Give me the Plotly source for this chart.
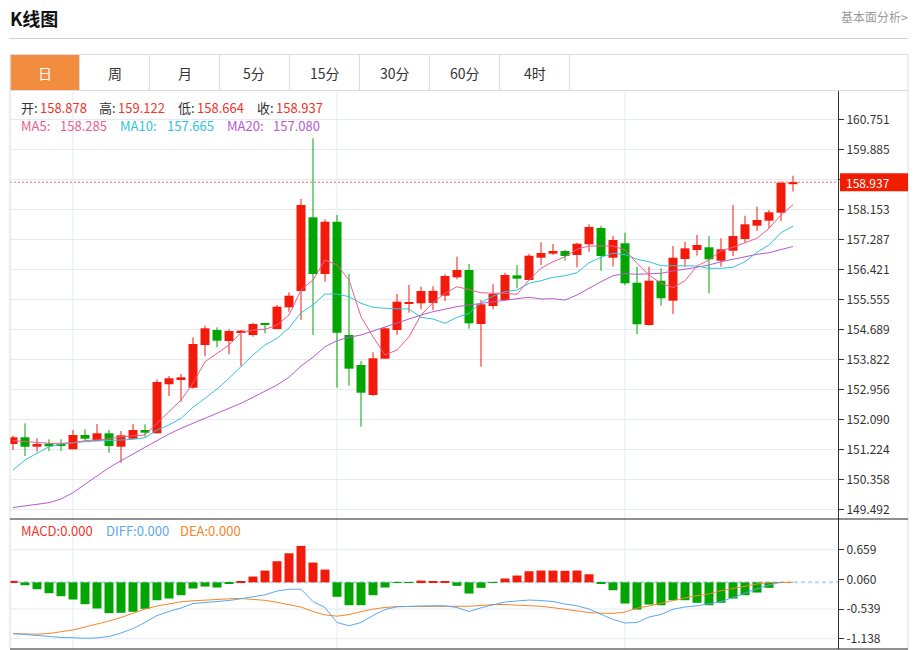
import plotly.graph_objects as go

# ---------------- data ----------------
IDX = list(range(1, 67))

OPEN = [151.378, 151.572, 151.300, 151.387, 151.378, 151.225, 151.638, 151.473, 151.687, 151.300,
        151.531, 151.782, 151.687, 153.102, 153.226, 153.003, 154.236, 154.669, 154.351, 154.611,
        154.525, 154.842, 154.698, 155.324, 155.795, 157.922, 156.286, 157.795, 154.525, 153.659,
        152.793, 153.841, 154.669, 155.428, 155.440, 155.450, 155.659, 156.190, 156.401, 154.842,
        155.362, 155.535, 156.248, 156.112, 156.756, 156.872, 156.949, 156.834, 157.143, 157.613,
        156.756, 157.172, 156.034, 154.813, 156.092, 155.515, 156.719, 156.978, 157.056, 156.669,
        156.958, 157.296, 157.680, 157.824, 158.055, 158.878]
HIGH = [151.618, 151.976, 151.543, 151.514, 151.514, 151.782, 151.803, 151.955, 151.782, 151.753,
        151.955, 151.947, 153.246, 153.341, 153.399, 154.458, 154.793, 154.747, 154.689, 154.669,
        154.880, 154.880, 155.391, 155.757, 158.451, 160.203, 157.865, 157.989, 156.286, 153.774,
        154.025, 154.747, 155.708, 155.968, 155.919, 155.930, 156.277, 156.785, 156.574, 155.535,
        155.988, 156.323, 156.545, 156.863, 157.201, 157.152, 156.978, 157.189, 157.720, 157.680,
        157.382, 157.478, 156.496, 156.496, 156.450, 157.094, 157.218, 157.411, 157.382, 157.316,
        158.277, 157.968, 158.228, 158.133, 158.950, 159.122]
LOW = [151.205, 151.032, 151.156, 151.176, 151.176, 151.225, 151.473, 151.473, 151.127, 150.838,
       151.531, 151.589, 151.687, 152.764, 152.599, 152.975, 153.918, 154.170, 153.968, 153.630,
       154.476, 154.574, 154.698, 155.197, 154.958, 154.525, 156.063, 153.003, 153.061, 151.878,
       152.764, 153.841, 154.525, 155.168, 155.267, 155.250, 155.506, 156.133, 154.707, 153.610,
       155.267, 155.535, 155.873, 156.112, 156.545, 156.834, 156.669, 156.476, 156.929, 156.381,
       156.504, 155.959, 154.545, 154.793, 155.370, 155.131, 156.496, 156.814, 155.728, 156.496,
       156.805, 157.189, 157.527, 157.605, 157.816, 158.664]
CLOSE = [151.572, 151.300, 151.378, 151.312, 151.320, 151.638, 151.531, 151.687, 151.320, 151.629,
         151.782, 151.704, 153.168, 153.275, 153.304, 154.265, 154.718, 154.360, 154.640, 154.649,
         154.842, 154.822, 155.342, 155.659, 158.277, 156.286, 157.795, 154.591, 153.552, 152.859,
         153.852, 154.718, 155.486, 155.469, 155.795, 155.800, 156.228, 156.401, 154.862, 155.411,
         155.708, 156.257, 156.150, 156.814, 156.892, 156.949, 156.805, 157.160, 157.642, 156.805,
         157.267, 156.017, 154.834, 156.092, 155.584, 156.756, 157.027, 157.123, 156.710, 156.999,
         157.382, 157.720, 157.844, 158.067, 158.921, 158.937]

MA5 = [151.473, 151.444, 151.416, 151.398, 151.398, 151.416, 151.473, 151.494, 151.522, 151.589,
       151.618, 151.638, 151.976, 152.310, 152.648, 153.130, 153.754, 153.996, 154.236, 154.591,
       154.669, 154.689, 154.813, 155.102, 155.824, 156.112, 156.690, 156.545, 156.112, 155.053,
       154.475, 153.947, 154.092, 154.475, 155.102, 155.457, 155.728, 155.919, 155.824, 155.746,
       155.728, 155.728, 155.699, 156.112, 156.450, 156.640, 156.785, 156.998, 157.094, 157.102,
       157.094, 156.978, 156.594, 156.257, 156.017, 155.890, 156.092, 156.516, 156.690, 156.958,
       157.056, 157.189, 157.316, 157.605, 157.989, 158.285]
MA10 = [150.628, 150.916, 151.110, 151.300, 151.378, 151.416, 151.444, 151.465, 151.473, 151.494,
        151.514, 151.560, 151.782, 151.927, 152.120, 152.437, 152.697, 152.966, 153.275, 153.610,
        153.947, 154.236, 154.429, 154.727, 155.168, 155.391, 155.708, 155.708, 155.630, 155.440,
        155.324, 155.295, 155.295, 155.275, 155.035, 154.986, 154.862, 155.035, 155.151, 155.457,
        155.650, 155.775, 155.824, 156.017, 156.092, 156.190, 156.236, 156.323, 156.612, 156.768,
        156.883, 156.848, 156.710, 156.640, 156.525, 156.516, 156.516, 156.516, 156.450, 156.450,
        156.479, 156.640, 156.912, 157.123, 157.478, 157.665]
MA20 = [149.545, 149.597, 149.646, 149.684, 149.790, 149.972, 150.215, 150.454, 150.694, 150.896,
        151.089, 151.300, 151.494, 151.667, 151.831, 151.976, 152.120, 152.264, 152.409, 152.553,
        152.726, 152.908, 153.081, 153.304, 153.630, 153.881, 154.187, 154.360, 154.458, 154.525,
        154.640, 154.764, 154.891, 155.007, 155.102, 155.197, 155.275, 155.342, 155.391, 155.440,
        155.486, 155.535, 155.572, 155.613, 155.564, 155.572, 155.535, 155.679, 155.873, 156.063,
        156.236, 156.300, 156.277, 156.285, 156.306, 156.372, 156.421, 156.479, 156.545, 156.640,
        156.710, 156.785, 156.854, 156.900, 156.998, 157.080]

MACD = [0.030, -0.058, -0.139, -0.220, -0.280, -0.347, -0.442, -0.528, -0.623, -0.615,
        -0.595, -0.535, -0.361, -0.327, -0.260, -0.125, -0.085, -0.105, -0.030, 0.022,
        0.117, 0.238, 0.426, 0.587, 0.736, 0.399, 0.258, -0.292, -0.462, -0.462,
        -0.260, -0.105, -0.010, -0.005, 0.036, 0.022, 0.022, -0.071, -0.226, -0.111,
        -0.010, 0.077, 0.137, 0.224, 0.238, 0.238, 0.232, 0.238, 0.163, -0.030,
        -0.159, -0.428, -0.549, -0.448, -0.462, -0.361, -0.361, -0.413, -0.462, -0.413,
        -0.327, -0.260, -0.206, -0.111, 0.000, 0.000]
DIFF = [-1.033, -1.053, -1.079, -1.103, -1.113, -1.119, -1.130, -1.123, -1.093, -1.023,
        -0.932, -0.811, -0.670, -0.589, -0.518, -0.428, -0.407, -0.393, -0.367, -0.331,
        -0.296, -0.252, -0.175, -0.139, -0.139, -0.387, -0.508, -0.811, -0.877, -0.811,
        -0.670, -0.549, -0.494, -0.482, -0.478, -0.474, -0.474, -0.508, -0.589, -0.514,
        -0.454, -0.397, -0.377, -0.357, -0.367, -0.387, -0.438, -0.474, -0.539, -0.639,
        -0.750, -0.821, -0.811, -0.700, -0.649, -0.543, -0.498, -0.474, -0.438, -0.387,
        -0.307, -0.216, -0.131, -0.054, 0.000, 0.000]
DEA = [-1.037, -1.043, -1.047, -1.033, -1.002, -0.962, -0.902, -0.845, -0.781, -0.710,
       -0.619, -0.539, -0.478, -0.428, -0.393, -0.373, -0.357, -0.345, -0.333, -0.327,
       -0.341, -0.363, -0.403, -0.454, -0.500, -0.589, -0.656, -0.684, -0.649, -0.593,
       -0.541, -0.508, -0.488, -0.488, -0.488, -0.488, -0.492, -0.490, -0.482, -0.468,
       -0.448, -0.448, -0.456, -0.468, -0.484, -0.512, -0.549, -0.583, -0.609, -0.623,
       -0.627, -0.599, -0.520, -0.478, -0.424, -0.361, -0.313, -0.270, -0.234, -0.169,
       -0.119, -0.075, -0.034, -0.004, 0.000, 0.000]

PRICE_TICKS = [160.751, 159.885, 159.019, 158.153, 157.287, 156.421, 155.555,
               154.689, 153.822, 152.956, 152.090, 151.224, 150.358, 149.492]
PRICE_TICK_TEXT = ["160.751", "159.885", "", "158.153", "157.287", "156.421", "155.555",
                   "154.689", "153.822", "152.956", "152.090", "151.224", "150.358", "149.492"]
MACD_TICKS = [0.659, 0.060, -0.539, -1.138]
MACD_TICK_TEXT = ["0.659", "0.060", "-0.539", "-1.138"]
MONTH_MARKS = [6, 28, 52]
TABS = ["日", "周", "月", "5分", "15分", "30分", "60分", "4时"]

# ---------------- styling ----------------
FONT = "Noto Sans CJK SC, Noto Sans, sans-serif"
UP = "#f21b0b"
DOWN = "#03a503"
C_MA5, C_MA10, C_MA20 = "#ee5b8e", "#30c4dc", "#b65bd0"
C_DIFF, C_DEA = "#5aa8f0", "#f5862a"
GRID = "#e4eaf0"
FRAME = "#dcdcdc"

W, H = 920, 650
PL, PR, PT, PB = 10, 838, 91, 649          # plot area in pixels
SPLIT = 519                               # boundary price / MACD panel


def X(px):
    return (px - PL) / (PR - PL)


def Y(py):
    return (PB - py) / (PB - PT)


fig = go.Figure()

# wicks
for col, cond in ((UP, lambda o, c: c >= o), (DOWN, lambda o, c: c < o)):
    wx, wy = [], []
    for i, o, h, l, c in zip(IDX, OPEN, HIGH, LOW, CLOSE):
        if cond(o, c):
            wx += [i, i, None]
            wy += [l, h, None]
    fig.add_trace(go.Scatter(x=wx, y=wy, mode="lines", line=dict(color=col, width=1),
                             hoverinfo="skip", xaxis="x", yaxis="y"))

# bodies
fig.add_trace(go.Bar(
    x=IDX,
    y=[max(abs(c - o), 0.03) for o, c in zip(OPEN, CLOSE)],
    base=[min(o, c) for o, c in zip(OPEN, CLOSE)],
    width=0.75,
    marker=dict(color=[UP if c >= o else DOWN for o, c in zip(OPEN, CLOSE)], line=dict(width=0)),
    xaxis="x", yaxis="y"))

for arr, col in ((MA20, C_MA20), (MA10, C_MA10), (MA5, C_MA5)):
    fig.add_trace(go.Scatter(x=IDX, y=arr, mode="lines", line=dict(color=col, width=1),
                             xaxis="x", yaxis="y"))

# MACD panel
fig.add_trace(go.Bar(x=IDX, y=MACD, width=0.75,
                     marker=dict(color=[UP if v >= 0 else DOWN for v in MACD], line=dict(width=0)),
                     xaxis="x", yaxis="y2"))
fig.add_trace(go.Scatter(x=IDX, y=DEA, mode="lines", line=dict(color=C_DEA, width=1),
                         xaxis="x", yaxis="y2"))
fig.add_trace(go.Scatter(x=IDX[:-1], y=DIFF[:-1], mode="lines", line=dict(color=C_DIFF, width=1),
                         xaxis="x", yaxis="y2"))

# ---------------- shapes ----------------
shapes = []


def pline(x0, y0, x1, y1, color, width=1, dash="solid", layer="above"):
    shapes.append(dict(type="line", xref="paper", yref="paper", x0=X(x0), x1=X(x1),
                       y0=Y(y0), y1=Y(y1), line=dict(color=color, width=width, dash=dash),
                       layer=layer))


# title separator
pline(9, 38.5, 908, 38.5, "#d0d0d0")
# tab bar
shapes.append(dict(type="rect", xref="paper", yref="paper", x0=X(10.5), x1=X(79), y0=Y(90),
                   y1=Y(55), fillcolor="#f28c3e", line=dict(width=0)))
pline(10, 54.5, 908, 54.5, FRAME)
pline(10, 90.5, 908, 90.5, FRAME)
for k in range(len(TABS)):
    xd = 79.5 + 70 * k
    pline(xd, 54.5, xd, 90.5, FRAME)
# outer frame
pline(10, 54.5, 10, 649, FRAME)
pline(908, 54.5, 908, 649, FRAME)
# panel separators
pline(10, SPLIT, 908, SPLIT, "#222222")
pline(10, 649, 908, 649, "#222222")

# vertical grid lines
for m in MONTH_MARKS:
    shapes.append(dict(type="line", xref="x", yref="paper", x0=m, x1=m, y0=0, y1=1,
                       line=dict(color=GRID, width=1), layer="below"))
# MACD grid lines
for v in (MACD_TICKS[0], MACD_TICKS[2], MACD_TICKS[3]):
    shapes.append(dict(type="line", xref="paper", yref="y2", x0=0, x1=1, y0=v, y1=v,
                       line=dict(color=GRID, width=1), layer="below"))
# MACD zero dashed line
shapes.append(dict(type="line", xref="paper", yref="y2", x0=0, x1=1, y0=0, y1=0,
                   line=dict(color="#b3dbee", width=2, dash="4px,3px"), layer="below"))
# last price dashed line
last = CLOSE[-1]
shapes.append(dict(type="line", xref="paper", yref="y", x0=0, x1=1, y0=last, y1=last,
                   line=dict(color="#f06a6a", width=1, dash="2px,2px"), layer="below"))
# last price label box
shapes.append(dict(type="rect", xref="paper", yref="y", x0=X(840), x1=X(908),
                   y0=last - 0.26, y1=last + 0.26, fillcolor="#f21c00", line=dict(width=0)))

# ---------------- annotations ----------------
ann = []


def text(px, py, s, color, size, anchor="left", bold=False):
    ann.append(dict(xref="paper", yref="paper", x=X(px), y=Y(py), text=("<b>%s</b>" % s) if bold else s,
                    showarrow=False, xanchor=anchor, yanchor="middle",
                    font=dict(family=FONT, size=size, color=color), borderpad=0))


text(9, 18, "K线图", "#111111", 18, bold=True)
text(909, 17, "基本面分析>", "#9a9a9a", 12, anchor="right")
for k, t in enumerate(TABS):
    text(44.5 + 70 * k, 73, t, "#ffffff" if k == 0 else "#333333", 14, anchor="center")

RED_TXT = "#f0342a"
fmt = "%.3f"
row1 = [(20, "开:", "#333333"), (38.5, fmt % OPEN[-1], RED_TXT),
        (97.5, "高:", "#333333"), (117, fmt % HIGH[-1], RED_TXT),
        (176.5, "低:", "#333333"), (196, fmt % LOW[-1], RED_TXT),
        (255.5, "收:", "#333333"), (275, fmt % CLOSE[-1], RED_TXT)]
for px, s, col in row1:
    text(px, 107, s, col, 13)
row2 = [(20, "MA5:", C_MA5), (59, fmt % MA5[-1], C_MA5),
        (119, "MA10:", C_MA10), (165.5, fmt % MA10[-1], C_MA10),
        (226, "MA20:", C_MA20), (272, fmt % MA20[-1], C_MA20)]
for px, s, col in row2:
    text(px, 125.5, s, col, 13)
text(20, 530.5, "MACD:" + fmt % MACD[-1], "#f0342a", 13)
text(105, 530.5, "DIFF:" + fmt % DIFF[-1], C_DIFF, 13)
text(178.5, 530.5, "DEA:" + fmt % DEA[-1], C_DEA, 13)
ann.append(dict(xref="paper", yref="y", x=X(845), y=last, text=fmt % last, showarrow=False,
                xanchor="left", yanchor="middle", borderpad=0,
                font=dict(family=FONT, size=12, color="#ffffff")))

main_lo = 164.195 - 0.028867 * SPLIT
main_hi = 164.195 - 0.028867 * PT
macd_hi = 0.659 + (549.7 - SPLIT) * 0.020191
macd_lo = 0.659 - (PB - 549.7) * 0.020191
split_frac = (PB - SPLIT) / (PB - PT)

fig.update_layout(
    template="none",
    width=W, height=H,
    margin=dict(l=PL, r=W - PR, t=PT, b=H - PB, pad=0),
    paper_bgcolor="#ffffff", plot_bgcolor="#ffffff",
    showlegend=False, barmode="overlay", hovermode=False,
    font=dict(family=FONT, size=12, color="#333333"),
    xaxis=dict(range=[0.75, 69.75], showgrid=False, showticklabels=False, zeroline=False,
               showline=False, ticks="", anchor="y2", automargin=False,
               rangeslider=dict(visible=False)),
    yaxis=dict(domain=[split_frac, 1], range=[main_lo, main_hi], side="right", anchor="x",
               tickvals=PRICE_TICKS, ticktext=PRICE_TICK_TEXT, showgrid=True, gridcolor=GRID,
               gridwidth=1, zeroline=False, showline=True, linecolor="#333333", linewidth=1,
               ticks="outside", ticklen=5, tickcolor="#333333", automargin=False,
               tickfont=dict(family=FONT, size=12, color="#333333")),
    yaxis2=dict(domain=[0, split_frac], range=[macd_lo, macd_hi], side="right", anchor="x",
                tickvals=MACD_TICKS, ticktext=MACD_TICK_TEXT, showgrid=False, zeroline=False,
                showline=True, linecolor="#333333", linewidth=1, ticks="outside", ticklen=5,
                tickcolor="#333333", automargin=False,
                tickfont=dict(family=FONT, size=12, color="#333333")),
    shapes=shapes,
    annotations=ann,
)

fig.write_html(
    "out.html",
    config={"displayModeBar": False, "responsive": False},
    post_script="document.body.style.margin='0px';document.body.style.padding='0px';"
                "document.body.style.overflow='hidden';",
)
